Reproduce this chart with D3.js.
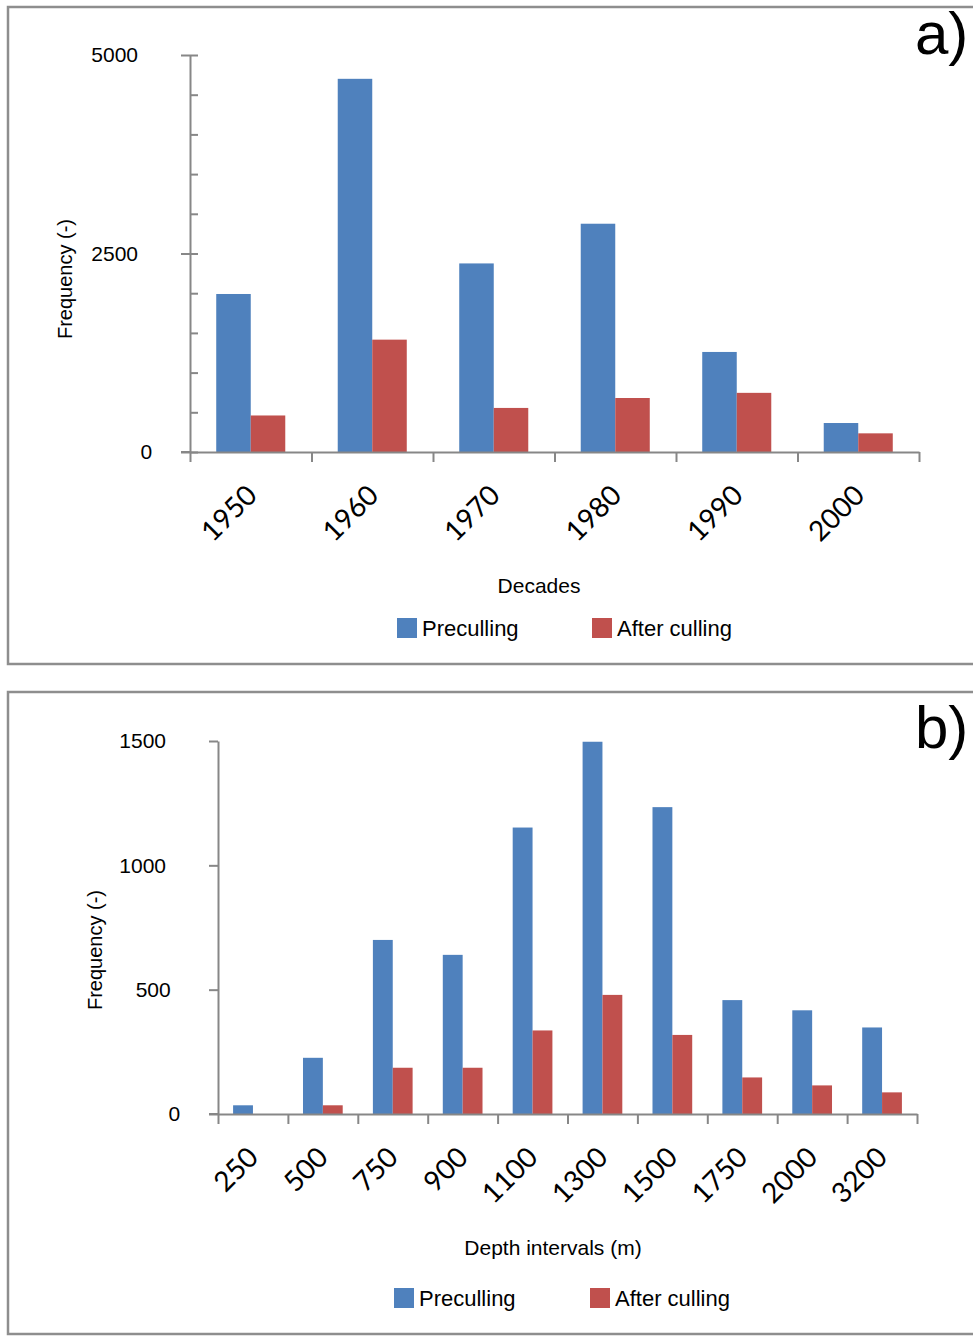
<!DOCTYPE html>
<html>
<head>
<meta charset="utf-8">
<script src="https://cdn.jsdelivr.net/npm/d3@7"></script>
<style>
  html, body { margin: 0; padding: 0; background: #fff; }
  svg { display: block; }
  text { font-family: "Liberation Sans", Arial, sans-serif; fill: #000; }
  .cat { font-family: Lato, "Open Sans", sans-serif; }
</style>
</head>
<body>
<svg id="chart" width="973" height="1336"></svg>
<script>
// Panel a: frequency per decade
const decades = ["1950", "1960", "1970", "1980", "1990", "2000"];
const decadePre = [1990, 4700, 2375, 2875, 1260, 365];
const decadeAfter = [460, 1415, 555, 680, 745, 235];
const decadeTicks = [0, 2500, 5000];

// Panel b: frequency per depth interval
const depths = ["250", "500", "750", "900", "1100", "1300", "1500", "1750", "2000", "3200"];
const depthPre = [35, 226, 700, 640, 1152, 1497, 1234, 458, 417, 348];
const depthAfter = [0, 35, 186, 186, 336, 479, 318, 147, 115, 87];
const depthTicks = [0, 500, 1000, 1500];

const seriesNames = ["Preculling", "After culling"];
const seriesColors = ["#4f81bd", "#c0504d"];
const axisColor = "#878787";

const svg = d3.select("#chart");

function panel(cfg) {
  const g = svg.append("g");

  // outer frame
  g.append("rect")
    .attr("x", 8).attr("y", cfg.frameTop)
    .attr("width", 980).attr("height", cfg.frameBottom - cfg.frameTop)
    .attr("fill", "none").attr("stroke", "#8e8e8e").attr("stroke-width", 2.5);

  // panel letter
  g.append("text")
    .attr("x", 915).attr("y", cfg.frameTop + cfg.letterDy)
    .style("font-size", "60px")
    .text(cfg.letter);

  const x = d3.scaleBand().domain(cfg.cats).range([cfg.left, cfg.right]).padding(0);
  const xIdx = d3.scaleLinear().domain([0, cfg.cats.length]).range([cfg.left, cfg.right]);
  const inner = d3.scaleBand().domain([0, 1]).range([0, x.bandwidth()])
    .paddingInner(0).paddingOuter(0.76);
  const y = d3.scaleLinear().domain([0, cfg.max]).range([cfg.bottom, cfg.top]);

  // bars
  const rows = cfg.cats.map((c, i) => ({ c, v: [cfg.pre[i], cfg.after[i]] }));
  const grp = g.append("g").selectAll("g").data(rows).join("g")
    .attr("transform", d => `translate(${x(d.c)},0)`);
  grp.selectAll("rect").data(d => d.v.map((v, s) => ({ v, s })))
    .join("rect")
    .attr("x", d => inner(d.s))
    .attr("width", inner.bandwidth())
    .attr("y", d => y(d.v))
    .attr("height", d => y(0) - y(d.v))
    .attr("fill", d => seriesColors[d.s]);

  // y axis: labelled major ticks outside
  const fmt = d3.format("d");
  const maxLen = fmt(cfg.max).length;
  const yAxis = g.append("g").attr("transform", `translate(${cfg.left},0)`)
    .call(d3.axisLeft(y).tickValues(cfg.ticks).tickFormat(fmt)
      .tickSize(cfg.tickOut).tickSizeOuter(0).tickPadding(cfg.labelPad));
  // shorter labels sit a little further right
  yAxis.selectAll("text")
    .style("font-size", cfg.tickFont + "px")
    .attr("dx", d => (maxLen - fmt(d).length) * 4.7);
  // minor ticks inside
  if (cfg.minor) {
    g.append("g").attr("transform", `translate(${cfg.left},0)`)
      .call(d3.axisRight(y).tickValues(d3.range(0, cfg.max + 1, cfg.minor)).tickSize(8).tickSizeOuter(0).tickFormat(""))
      .call(a => a.select(".domain").remove());
  }

  // x axis: ticks at category boundaries
  g.append("g").attr("transform", `translate(0,${cfg.bottom})`)
    .call(d3.axisBottom(xIdx).tickValues(d3.range(0, cfg.cats.length + 1)).tickSize(10).tickSizeOuter(0).tickFormat(""));
  g.append("line")
    .attr("x1", cfg.left - cfg.tickOut).attr("x2", cfg.left)
    .attr("y1", cfg.bottom).attr("y2", cfg.bottom);

  g.selectAll(".domain, .tick line, line").attr("stroke", axisColor).attr("stroke-width", 2);

  // rotated category labels
  g.append("g").selectAll("text").data(cfg.cats).join("text")
    .attr("class", "cat")
    .attr("transform", d => `translate(${x(d) + x.bandwidth() / 2 + cfg.catDx},${cfg.bottom + cfg.catDy}) rotate(-45)`)
    .attr("text-anchor", "end")
    .style("font-size", cfg.catFont + "px")
    .text(d => d);

  // axis titles
  g.append("text")
    .attr("x", cfg.xTitleX).attr("y", cfg.xTitleY)
    .attr("text-anchor", "middle")
    .style("font-size", "21px")
    .text(cfg.xTitle);
  g.append("text")
    .attr("transform", `translate(${cfg.yTitleX},${cfg.yTitleY}) rotate(-90)`)
    .attr("text-anchor", "middle")
    .style("font-size", "20px")
    .text("Frequency (-)");

  // legend
  const leg = g.append("g").selectAll("g").data(seriesNames).join("g")
    .attr("transform", (d, i) => `translate(${cfg.legX[i]},${cfg.legY})`);
  leg.append("rect").attr("width", 20).attr("height", 20).attr("y", -10)
    .attr("fill", (d, i) => seriesColors[i]);
  leg.append("text").attr("x", 25).attr("y", 8)
    .style("font-size", "22px")
    .text(d => d);
}

panel({
  cats: decades, pre: decadePre, after: decadeAfter, ticks: decadeTicks, max: 5000, minor: 500,
  frameTop: 7, frameBottom: 664, letter: "a)", letterDy: 47,
  left: 190, right: 919, top: 55, bottom: 452,
  tickOut: 9, labelPad: 43, tickFont: 21,
  catDx: 8, catDy: 45, catFont: 28,
  xTitle: "Decades", xTitleX: 539, xTitleY: 593,
  yTitleX: 72, yTitleY: 279,
  legX: [397, 592], legY: 628
});

panel({
  cats: depths, pre: depthPre, after: depthAfter, ticks: depthTicks, max: 1500, minor: 0,
  frameTop: 692, frameBottom: 1334, letter: "b)", letterDy: 56,
  left: 218, right: 917, top: 741, bottom: 1114,
  tickOut: 9, labelPad: 43, tickFont: 21,
  catDx: 7, catDy: 45, catFont: 28,
  xTitle: "Depth intervals (m)", xTitleX: 553, xTitleY: 1255,
  yTitleX: 102, yTitleY: 950,
  legX: [394, 590], legY: 1298
});
</script>
</body>
</html>
